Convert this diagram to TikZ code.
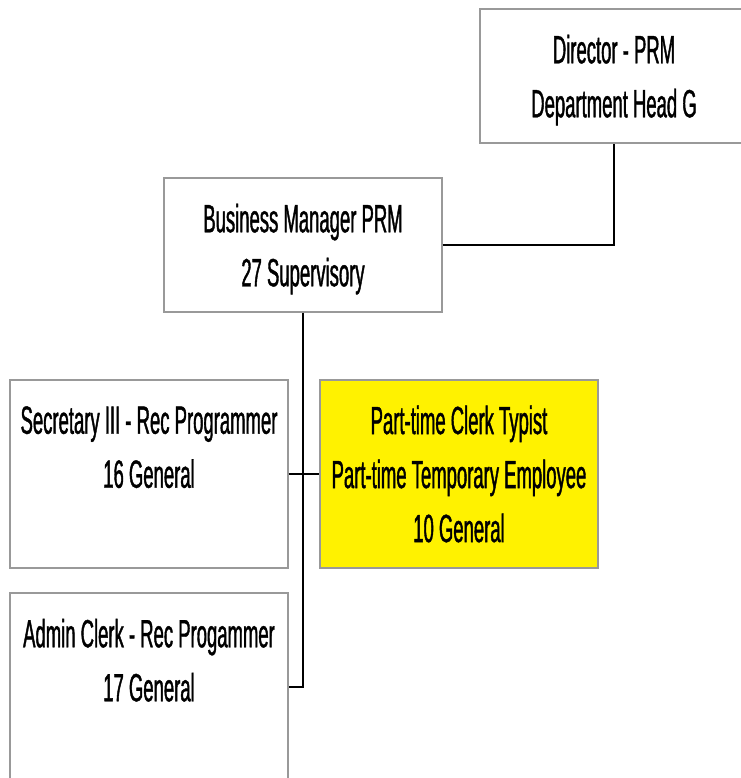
\documentclass[tikz,border=0pt]{standalone}
\usepackage{fontspec}
\setmainfont{Liberation Sans}[FakeStretch=0.47,FakeBold=1]
\usetikzlibrary{positioning}

\begin{document}
\begin{tikzpicture}[x=0.75pt,y=-0.75pt,
  every node/.style={inner sep=0pt,align=center,font=\fontsize{29.5}{40.5}\selectfont},
  posbox/.style={draw=gray!80,line width=0.9pt,minimum width=278*0.75pt,minimum height=188*0.75pt},
  headbox/.style={posbox,minimum height=134*0.75pt,text depth=0pt},
  link/.style={draw=black,line width=1.3pt}]
\useasboundingbox (0,0) rectangle (740,778);
% boxes
\node [headbox,minimum width=268*0.75pt] (dir) at (614,76) {Director - PRM\\Department Head G};
\node [headbox] (bm) at (303,245) {Business Manager PRM\\27 Supervisory};
\node [posbox] (sec) at (149,474) {Secretary III - Rec Programmer\\16 General\\\mbox{}};
\node [posbox,fill=yellow] (pt) at (459,474) {Part-time Clerk Typist\\Part-time Temporary Employee\\10 General};
\node [posbox] (adm) at (149,687) {Admin Clerk - Rec Progammer\\17 General\\\mbox{}};
% connectors
\draw [link] (bm.east) -| (dir.south);
\draw [link] (bm.south) |- (adm.east);
\draw [link] (sec.east) -- (pt.west);
\end{tikzpicture}
\end{document}
